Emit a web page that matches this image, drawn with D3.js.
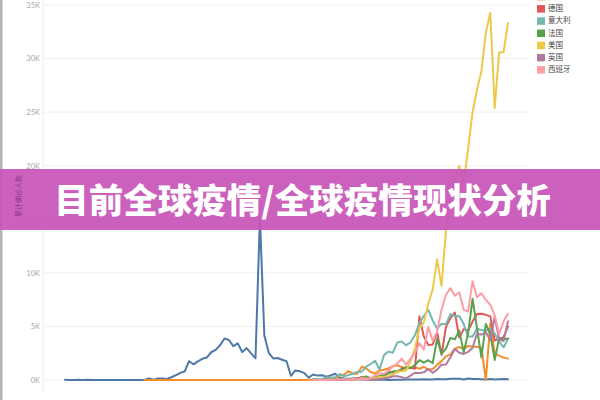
<!DOCTYPE html>
<html>
<head>
<meta charset="utf-8">
<script src="https://cdn.jsdelivr.net/npm/d3@7"></script>
<style>
  html, body { margin: 0; padding: 0; background: #fff; }
  svg { display: block; font-family: "Noto Sans CJK SC", "Noto Sans", sans-serif; }
</style>
</head>
<body>
<svg id="chart" width="600" height="400"></svg>
<script>
// ---------- data ----------
const countries = ["中国", "伊朗", "德国", "意大利", "法国", "美国", "英国", "西班牙"];
const colors = ["#4e79a7", "#f28e2b", "#e15759", "#76b7b2", "#59a14f", "#edc948", "#b07aa1", "#ff9da7"];
const startDates = ["2019-12-31", "2020-01-18", "2020-02-25", "2020-02-25", "2020-02-25", "2020-02-25", "2020-02-25", "2020-02-25"];
const yTicks = [0, 5000, 10000, 15000, 20000, 25000, 30000, 35000];
const yTickLabels = ["0K", "5K", "10K", "15K", "20K", "25K", "30K", "35K"];
const yTitle = "累计确诊人数";
const bannerText = "目前全球疫情/全球疫情现状分析";

const china = [27,
  0,0,17,0,15,0,0,0,0,0,0,0,0,0,0,0,4,17,136,19,151,140,97,259,441,665,787,1753,1466,1740,1980,
  2095,2590,2812,3237,3872,3727,3160,3418,2607,2974,2490,2028,15141,4156,2538,2007,2052,1890,1750,394,891,826,647,218,515,410,439,314,428,
  579,206,130,120,143,146,102,46,45,20,31,26,11,18,27,29,39,39,58,39,60,41,46,103,78,70,121,113,106,46,131,
  86,94,79,58,87,41,79,97,81];
const iran = [0,0,0,0,0,0,0,0,0,0,0,0,0,0,
  0,0,0,0,0,0,0,0,0,0,0,0,0,0,0,0,0,0,0,2,3,13,10,15,18,34,44,106,143,
  205,385,523,835,586,591,1234,1076,743,595,881,958,1075,1289,1365,1209,1053,1178,1192,1046,1237,966,1028,1411,1762,2206,2389,2926,3076,2901,3186,
  3110,3111,2987,0,5275,2483,2274,2089,1997];
const germany = [2,4,10,26,13,
  57,28,28,39,66,138,284,163,55,237,157,271,802,693,733,1043,1174,1144,1042,5940,4049,3276,3311,4438,2342,4954,5780,6294,3965,4751,4615,
  5453,6156,6174,6082,5936,3677,3834,4003,4974];
const italy = [97,93,78,250,238,
  240,566,342,466,587,769,778,1247,1492,1797,977,2313,2651,2547,3497,3590,3233,3526,4207,5322,5986,6557,5560,4789,5249,5210,6153,5959,5974,5217,4050,
  4053,4782,4668,4585,4805,4316,3599,3039,3836];
const france = [2,0,2,20,19,
  43,30,61,21,73,138,190,336,177,286,372,497,595,785,838,924,1210,1097,1404,1861,1617,1847,1559,3838,2446,2931,3922,3809,4611,2599,4376,
  7578,4861,2116,5233,4267,1873,3912,3777,3881];
const usa = [0,0,1,0,8,
  7,23,19,33,77,53,166,116,75,187,271,287,351,511,777,823,887,1766,2988,4835,5374,7123,8459,11236,8789,13963,16797,18695,19979,18360,21595,
  24998,27103,28819,32425,34272,25398,30561,30613,33323];
const uk = [4,0,0,3,3,
  12,4,11,34,30,48,43,67,48,52,83,138,208,342,342,251,152,407,676,643,714,1035,665,967,1427,1452,2129,2885,2546,2433,2619,
  3009,4324,4244,4450,3735,5903,3802,3634,5491];
const spain = [2,4,0,10,17,
  13,39,36,45,57,37,141,100,173,400,622,582,869,1266,1522,2000,1438,1987,2538,3431,2833,4946,3646,4517,6584,7937,8578,7871,8189,6549,6398,
  9222,7719,8102,7472,7026,6023,4273,5478,6180];
const seriesValues = [china, iran, germany, italy, france, usa, uk, spain];
const dateDomain = ["2019-12-31", "2020-04-09"];

// ---------- build ----------
const parse = d3.utcParse("%Y-%m-%d");
const series = countries.map((name, i) => {
  const s = parse(startDates[i]);
  return {
    name, color: colors[i],
    points: seriesValues[i].map((v, k) => ({ date: d3.utcDay.offset(s, k), value: v }))
  };
});

const svg = d3.select("#chart");

const x = d3.scaleUtc().domain(dateDomain.map(parse)).range([65, 508]);
const y = d3.scaleLinear().domain([0, 35000]).range([380, 5]);

// left border
svg.append("rect").attr("x", 0).attr("y", 0).attr("width", 2.5).attr("height", 400).attr("fill", "#b5b5b5");

// gridlines
svg.append("g").selectAll("line").data(yTicks).join("line")
  .attr("x1", 43).attr("x2", 528)
  .attr("y1", d => y(d)).attr("y2", d => y(d))
  .attr("stroke", "#efefef").attr("stroke-width", 1);

// y axis
const yAxis = d3.axisLeft(y).tickValues(yTicks).tickSize(0).tickPadding(3)
  .tickFormat((d, i) => yTickLabels[i]);
const gy = svg.append("g").attr("transform", "translate(43,0)").call(yAxis);
gy.select(".domain").attr("stroke", "#ececec").attr("d", "M0,0V392");
gy.selectAll("text").attr("fill", "#a8a8a8").attr("font-size", 7.5)
  .attr("font-family", "Lato, 'Noto Sans', sans-serif");

// lines
const line = d3.line().x(d => x(d.date)).y(d => y(d.value));
svg.append("g").selectAll("path").data(series).join("path")
  .attr("d", d => line(d.points))
  .attr("fill", "none")
  .attr("stroke", d => d.color)
  .attr("stroke-width", 2)
  .attr("stroke-linejoin", "round")
  .attr("stroke-linecap", "round");

// legend
const lg = svg.append("g").selectAll("g").data(series).join("g")
  .attr("transform", (d, i) => `translate(537, ${-15.8 + i * 12.2})`);
lg.append("rect").attr("x", 0).attr("y", -3.5).attr("width", 8).attr("height", 7.5).attr("fill", d => d.color);
lg.append("text").attr("x", 11).attr("y", 0).attr("dy", "0.35em")
  .attr("font-size", 7.5).attr("fill", "#444").text(d => d.name);

// banner
svg.append("rect").attr("x", 0).attr("y", 169).attr("width", 600).attr("height", 61)
  .attr("fill", "#c855b8").attr("opacity", 0.93);

// y title
svg.append("text")
  .attr("transform", "translate(19,196) rotate(-90)")
  .attr("text-anchor", "middle").attr("dy", "0.35em")
  .attr("font-size", 7).attr("fill", "#8a3a8c").text(yTitle);

// banner text
svg.append("text").attr("x", 302.5).attr("y", 212.5)
  .attr("text-anchor", "middle")
  .attr("font-size", 34.5).attr("font-weight", 900).attr("fill", "#ffffff")
  .text(bannerText);
</script>
</body>
</html>
